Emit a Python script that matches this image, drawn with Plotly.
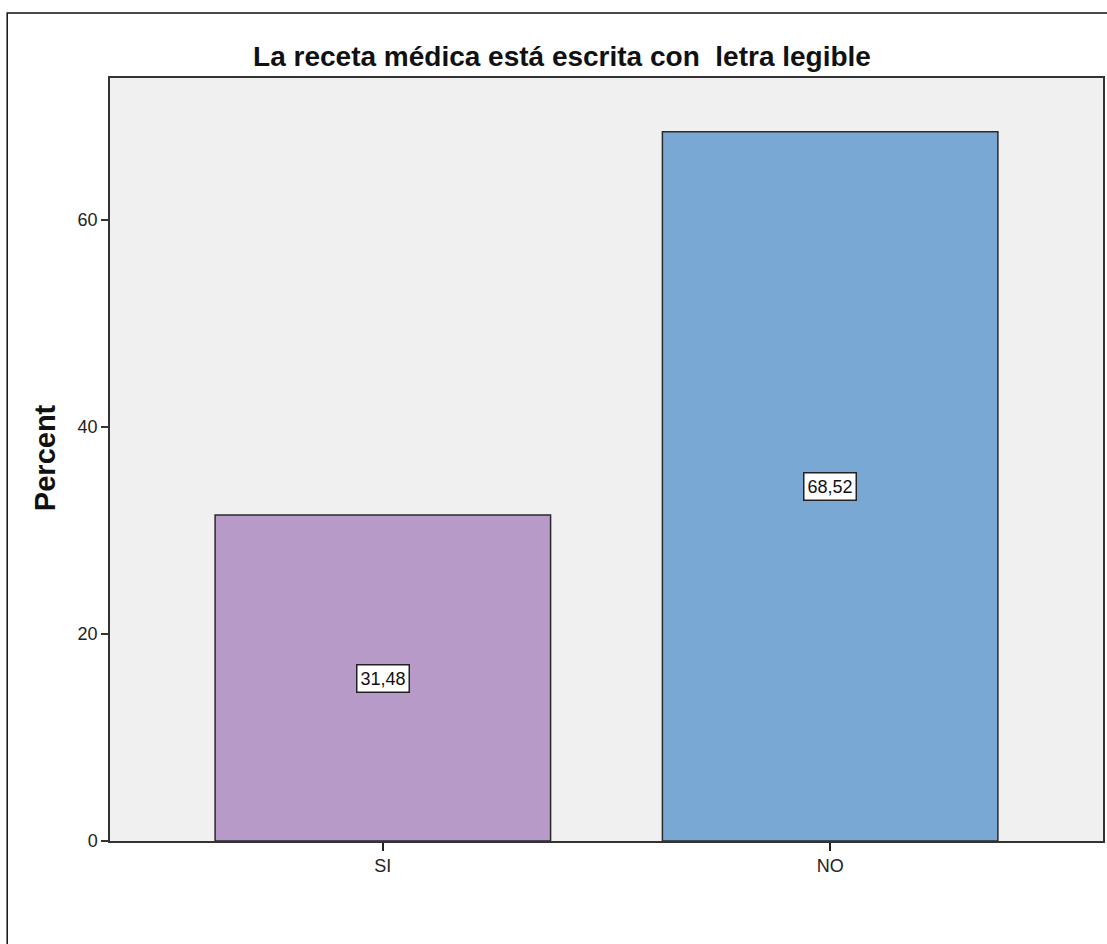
import plotly.graph_objects as go

categories = ["SI", "NO"]
percent = [31.48, 68.52]
bar_colors = ["#B89AC8", "#7AA8D5"]
y_ticks = [0, 20, 40, 60]
title_text = "La receta médica está escrita con  letra legible"
y_title = "Percent"

fig = go.Figure()
fig.add_trace(go.Bar(
    x=list(range(len(categories))), y=percent, width=0.75,
    marker=dict(color=bar_colors, line=dict(color="#2a2a2a", width=1.5)),
    hoverinfo="skip",
))

for i, v in enumerate(percent):
    fig.add_annotation(
        x=i, y=v / 2, xref="x", yref="y",
        text=f"{v:.2f}".replace(".", ","), showarrow=False,
        font=dict(family="Liberation Sans, Arial", size=18, color="#111"),
        bgcolor="white", bordercolor="#222", borderwidth=1.5, borderpad=3,
    )

# y axis title
fig.add_annotation(
    x=(45 - 110) / 995, y=(841 - 458) / 763, xref="paper", yref="paper",
    text="<b>" + y_title + "</b>", textangle=-90, showarrow=False,
    font=dict(family="Liberation Sans, Arial", size=29, color="#111"),
    xanchor="center", yanchor="middle",
)

fig.update_layout(
    width=1107, height=944,
    margin=dict(l=110, r=2, t=78, b=103),
    paper_bgcolor="white", plot_bgcolor="#F0F0F0",
    showlegend=False,
    title=dict(text="<b>" + title_text + "</b>", x=562 / 1107, xanchor="center",
               y=1 - 56 / 944, yanchor="middle", yref="container",
               font=dict(family="Liberation Sans, Arial", size=28, color="#111")),
    font=dict(family="Liberation Sans, Arial", color="#222"),
)
fig.update_xaxes(
    range=[-0.61, 1.61], tickmode="array", tickvals=list(range(len(categories))),
    ticktext=categories, ticks="outside", ticklen=8, tickcolor="#222", tickwidth=1.5,
    showline=True, linecolor="#333", linewidth=1.5, mirror=True,
    showgrid=False, zeroline=False, tickfont=dict(size=18, color="#222"),
)
fig.update_yaxes(
    range=[0, 73.7], tickmode="array", tickvals=y_ticks,
    ticks="outside", ticklen=7, tickcolor="#333", tickwidth=1.5,
    showline=True, linecolor="#333", linewidth=1.5, mirror=True,
    showgrid=False, zeroline=False, tickfont=dict(size=18, color="#222"),
)
# outer frame (cropped on right/bottom)
fig.add_shape(type="rect", xref="paper", yref="paper",
              x0=(7 - 110) / 995, x1=1.05, y0=-0.3, y1=(841 - 13) / 763,
              line=dict(color="#111", width=1.5), fillcolor="rgba(0,0,0,0)", layer="below")

fig.write_html("out.html")
